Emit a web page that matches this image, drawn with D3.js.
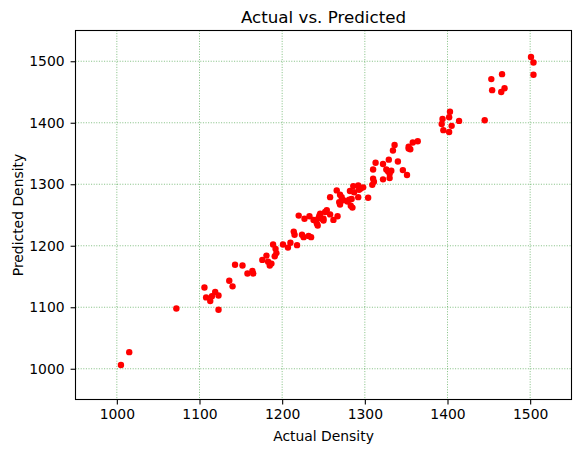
<!DOCTYPE html>
<html>
<head>
<meta charset="utf-8">
<script src="https://cdn.jsdelivr.net/npm/d3@7"></script>
<style>
  body { margin: 0; background: #fff; }
  svg { display: block; font-family: "DejaVu Sans", sans-serif; }
</style>
</head>
<body>
<svg width="580" height="453"></svg>
<script>
// actual vs predicted density
const actual = [
  1005, 1015, 1072, 1106, 1108, 1113, 1115, 1119, 1123, 1123,
  1136, 1140, 1143, 1152, 1158, 1164, 1165, 1176, 1181, 1183,
  1185, 1187, 1191, 1193, 1189, 1192, 1201, 1207, 1210, 1218,
  1214, 1215, 1224, 1226, 1232, 1235, 1220, 1227, 1233, 1238,
  1242, 1243, 1245, 1244, 1250, 1252, 1254, 1258, 1262, 1267,
  1258, 1266, 1270, 1272, 1274, 1269, 1270, 1281, 1279, 1283,
  1285, 1292, 1304, 1282, 1286, 1292, 1295, 1298, 1293, 1309,
  1310, 1311, 1322, 1330, 1310, 1326, 1328, 1332, 1330, 1346,
  1351, 1313, 1322, 1329, 1340, 1336, 1334, 1353, 1355, 1353,
  1358, 1364, 1394, 1403, 1402, 1414, 1393, 1405, 1395, 1402,
  1445, 1453, 1466, 1454, 1469, 1465, 1501, 1504, 1504, 1240,
  1246, 1250, 1248, 1284, 1287
];
const predicted = [
  1006, 1027, 1098, 1132, 1116, 1110, 1118, 1125, 1119, 1096,
  1143, 1134, 1169, 1168, 1155, 1159, 1155, 1177, 1184, 1174,
  1168, 1171, 1183, 1188, 1202, 1195, 1202, 1197, 1205, 1201,
  1223, 1218, 1218, 1214, 1216, 1214, 1249, 1244, 1248, 1242,
  1236, 1233, 1249, 1245, 1244, 1255, 1258, 1251, 1242, 1248,
  1279, 1290, 1283, 1279, 1274, 1271, 1267, 1275, 1272, 1265,
  1262, 1279, 1278, 1289, 1297, 1298, 1293, 1295, 1291, 1299,
  1309, 1304, 1308, 1310, 1324, 1324, 1321, 1322, 1317, 1323,
  1315, 1335, 1333, 1340, 1337, 1364, 1355, 1361, 1357, 1358,
  1368, 1370, 1406, 1418, 1409, 1403, 1398, 1395, 1388, 1385,
  1404, 1471, 1479, 1453, 1456, 1450, 1507, 1498, 1478, 1241,
  1252, 1241, 1244, 1276, 1287
];
const xTicks = [1000, 1100, 1200, 1300, 1400, 1500];
const yTicks = [1000, 1100, 1200, 1300, 1400, 1500];

const svg = d3.select('svg');
const margin = { top: 30.5, right: 8.5, bottom: 53.5, left: 75.5 };
const width = +svg.attr('width');
const height = +svg.attr('height');
const innerWidth = width - margin.left - margin.right;
const innerHeight = height - margin.top - margin.bottom;

const x = d3.scaleLinear().domain([950, 1550]).range([0, innerWidth]);
const y = d3.scaleLinear().domain([950, 1550]).range([innerHeight, 0]);

const g = svg.append('g')
  .attr('transform', `translate(${margin.left}, ${margin.top})`);

// dotted green grid
g.append('g')
  .selectAll('line')
  .data(xTicks)
  .join('line')
  .attr('x1', d => x(d)).attr('x2', d => x(d))
  .attr('y1', 0).attr('y2', innerHeight)
  .attr('stroke', '#008000').attr('stroke-width', 0.7)
  .attr('stroke-dasharray', '1,1.6').attr('opacity', 0.7);

g.append('g')
  .selectAll('line')
  .data(yTicks)
  .join('line')
  .attr('y1', d => y(d)).attr('y2', d => y(d))
  .attr('x1', 0).attr('x2', innerWidth)
  .attr('stroke', '#008000').attr('stroke-width', 0.7)
  .attr('stroke-dasharray', '1,1.6').attr('opacity', 0.7);

// points
g.append('g')
  .selectAll('circle')
  .data(actual.map((a, i) => [a, predicted[i]]))
  .join('circle')
  .attr('cx', d => x(d[0]))
  .attr('cy', d => y(d[1]))
  .attr('r', 3.2)
  .style('fill', '#ff0000');

// axes
const xAxis = g.append('g')
  .attr('transform', `translate(0, ${innerHeight})`)
  .call(d3.axisBottom(x).tickValues(xTicks).tickSize(4.9).tickPadding(5).tickFormat(d3.format('d')));
const yAxis = g.append('g')
  .call(d3.axisLeft(y).tickValues(yTicks).tickSize(4.9).tickPadding(6).tickFormat(d3.format('d')));

[xAxis, yAxis].forEach(a => {
  a.select('.domain').remove();
  a.selectAll('line').attr('stroke', '#000').attr('stroke-width', 1.1);
  a.selectAll('text').attr('font-size', 13.9).attr('fill', '#000')
    .attr('font-family', '"DejaVu Sans", sans-serif');
});

// frame
g.append('rect')
  .attr('width', innerWidth).attr('height', innerHeight)
  .attr('fill', 'none').attr('stroke', '#000').attr('stroke-width', 1.1);

svg.append('text')
  .attr('x', margin.left + innerWidth / 2).attr('y', 23.3)
  .attr('text-anchor', 'middle').attr('font-size', 16.7)
  .text('Actual vs. Predicted');

svg.append('text')
  .attr('x', margin.left + innerWidth / 2).attr('y', 441)
  .attr('text-anchor', 'middle').attr('font-size', 13.9)
  .text('Actual Density');

svg.append('text')
  .attr('transform', `translate(22.5, ${margin.top + innerHeight / 2}) rotate(-90)`)
  .attr('text-anchor', 'middle').attr('font-size', 13.9)
  .text('Predicted Density');
</script>
</body>
</html>
